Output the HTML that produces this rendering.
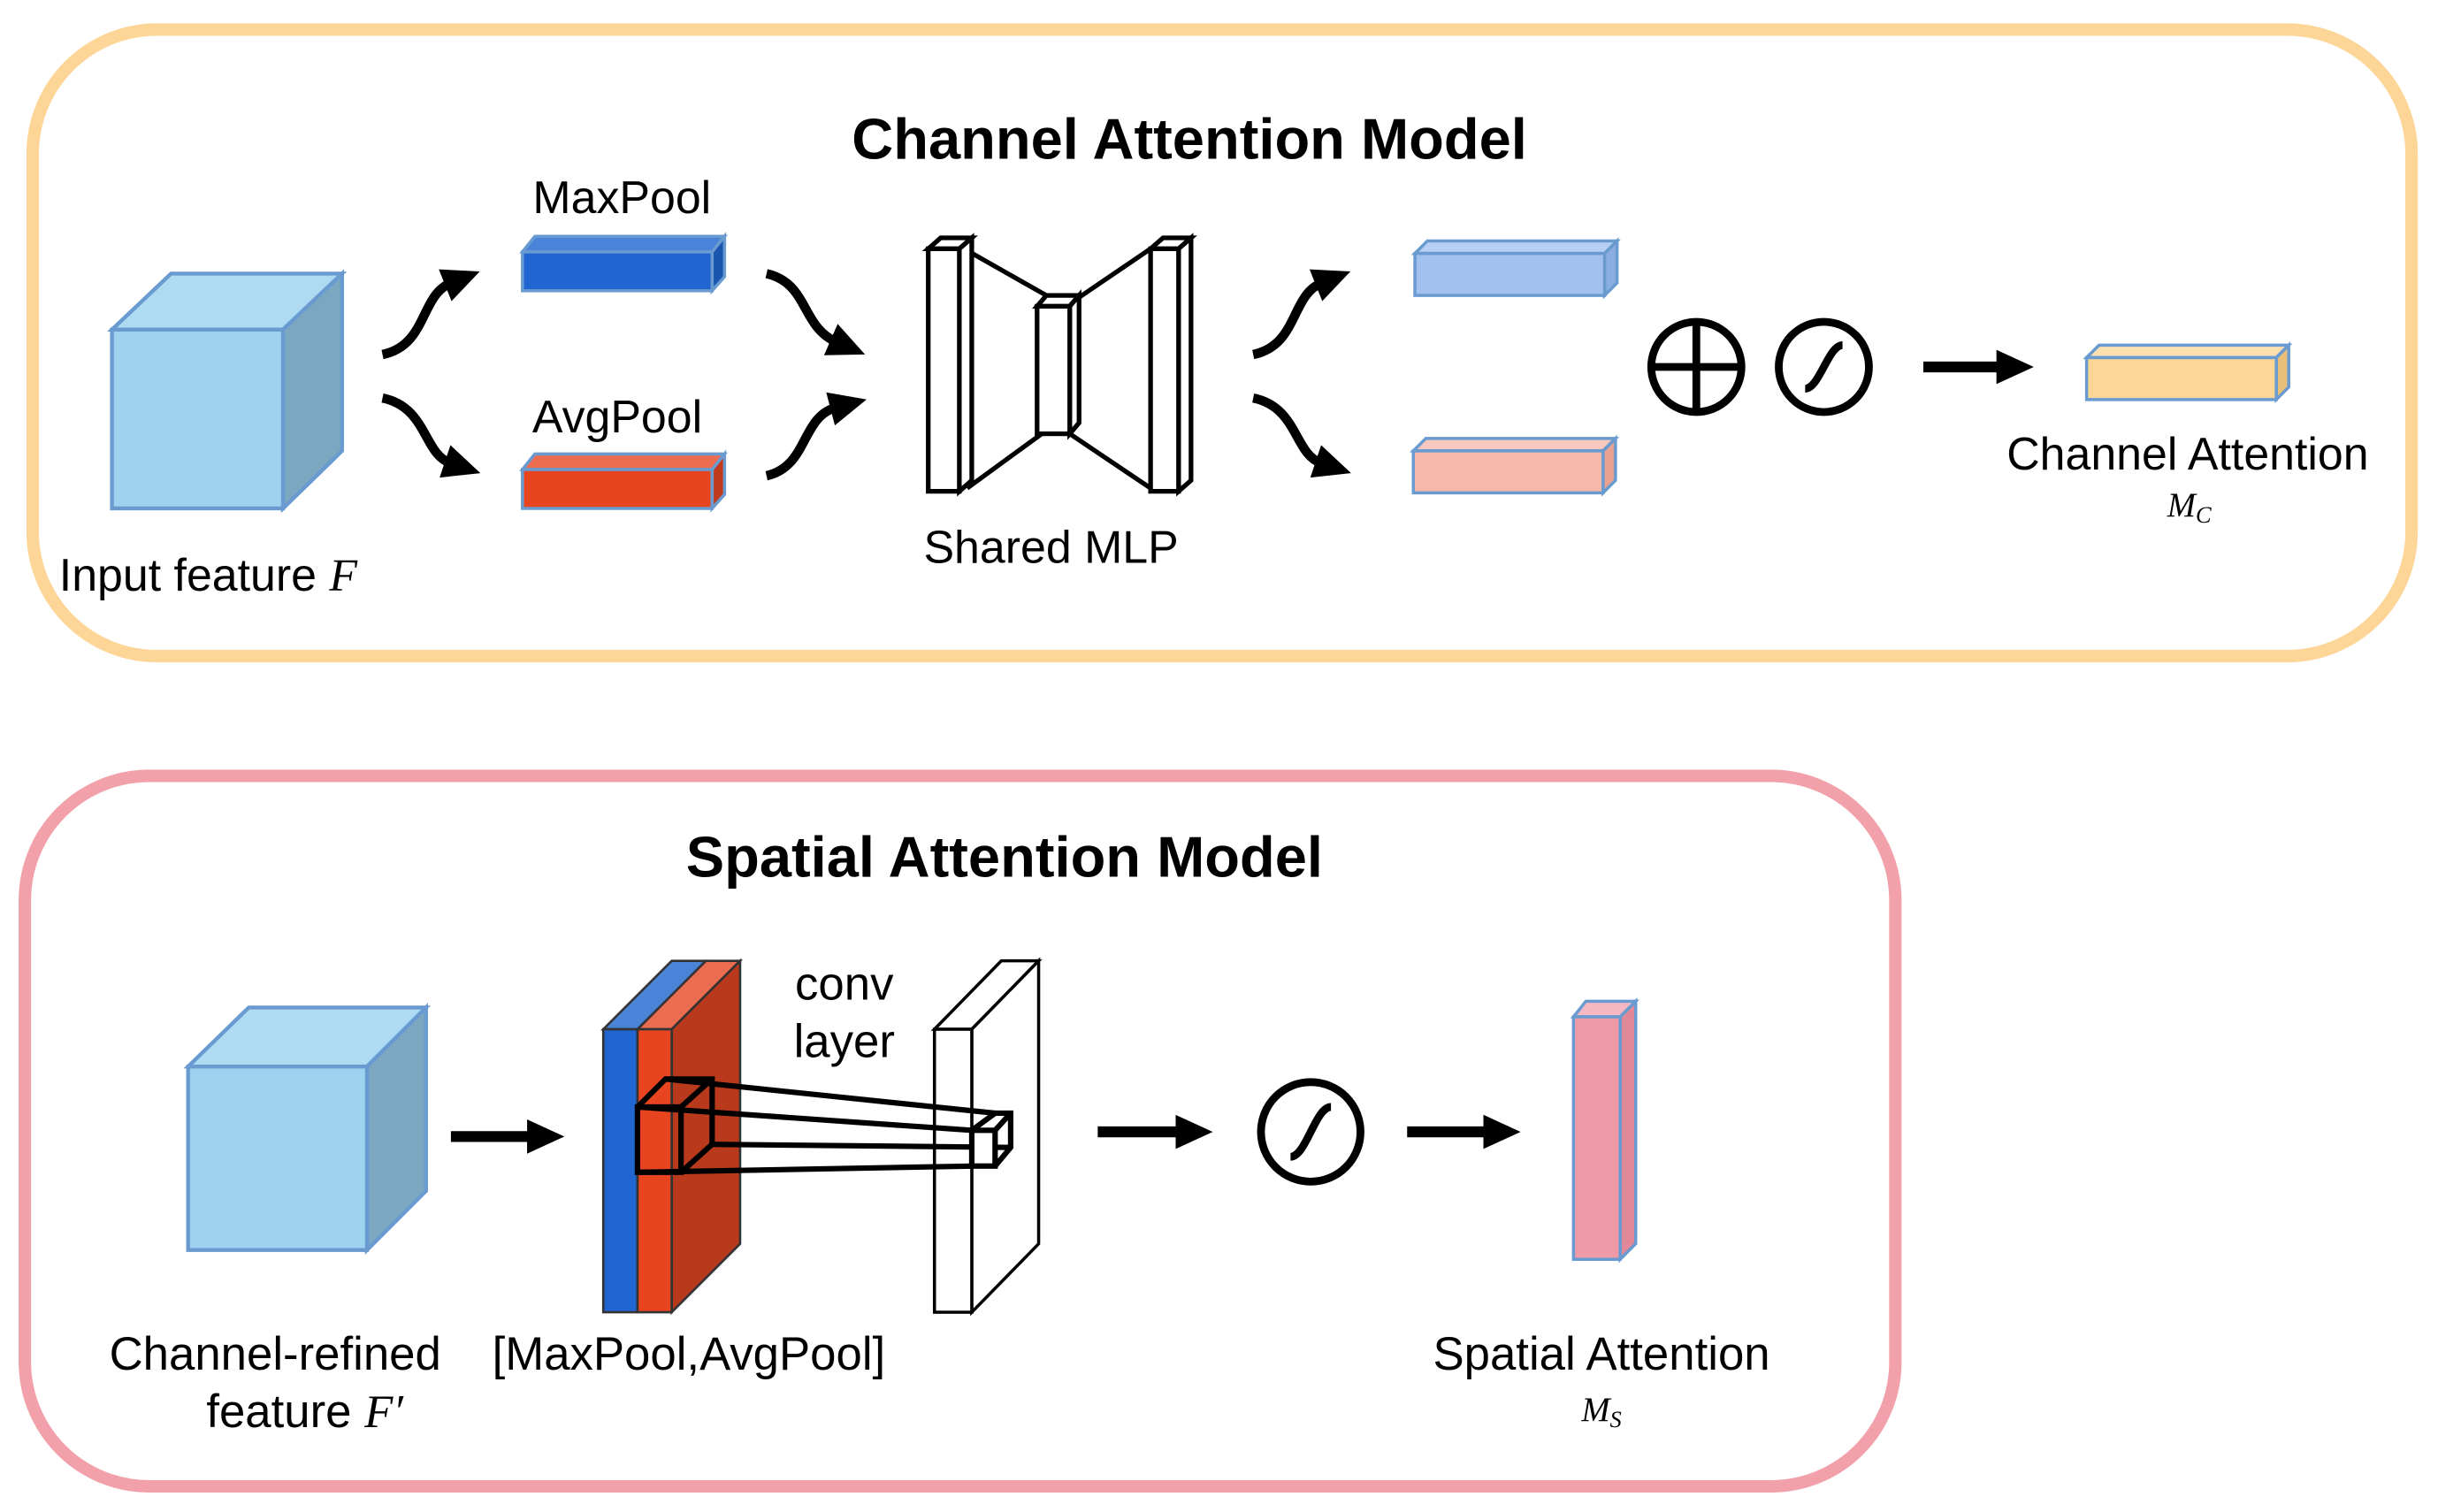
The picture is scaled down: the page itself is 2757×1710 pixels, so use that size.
<!DOCTYPE html>
<html><head><meta charset="utf-8"><style>html,body{margin:0;padding:0;background:#fff}svg{display:block}</style></head>
<body>
<svg width="2757" height="1710" viewBox="0 0 1568 972.5" preserveAspectRatio="none" xmlns="http://www.w3.org/2000/svg" font-family="'Liberation Sans', Arial, sans-serif">
<defs>
<marker id="ah" markerUnits="userSpaceOnUse" markerWidth="26" markerHeight="26" refX="4" refY="13" orient="auto">
<path d="M0,2 L24,13 L0,24 Z" fill="#000"/>
</marker>
</defs>
<rect x="0" y="0" width="1568" height="972.5" fill="#fff"/>
<rect x="21" y="19" width="1530" height="403" rx="80" fill="none" stroke="#FDD597" stroke-width="8"/>
<rect x="16" y="499" width="1203" height="457" rx="80" fill="none" stroke="#F2A0AA" stroke-width="8"/>
<text x="765" y="102" font-size="37" font-weight="bold" text-anchor="middle">Channel Attention Model</text>
<text x="646" y="564" font-size="37" font-weight="bold" text-anchor="middle">Spatial Attention Model</text>

<g stroke="#6A9BD0" stroke-width="2.5">
<polygon points="72,212 110,176 220,176 182,212" fill="#AEDBF2"/>
<polygon points="182,212 220,176 220,290 182,327" fill="#7BA8C0"/>
<rect x="72" y="212" width="110" height="115" fill="#9DD3EE"/>
</g>
<g stroke="#6A9BD0" stroke-width="2">
<polygon points="336,162 344,152 466,152 458,162" fill="#4A84D8"/>
<polygon points="458,162 466,152 466,178 458,187" fill="#1A55B0"/>
<rect x="336" y="162" width="122" height="25" fill="#2166D0"/>
<polygon points="336,302 344,292 466,292 458,302" fill="#EC6C50"/>
<polygon points="458,302 466,292 466,318 458,327" fill="#C23A1C"/>
<rect x="336" y="302" width="122" height="25" fill="#E84420"/>
</g>
<text x="400" y="137" font-size="29.5" text-anchor="middle">MaxPool</text>
<text x="397" y="278" font-size="29.5" text-anchor="middle">AvgPool</text>
<text x="38" y="380" font-size="29.5">Input feature <tspan font-family="'Liberation Serif',serif" font-style="italic">F</tspan></text>

<g fill="none" stroke="#000" stroke-width="6" marker-end="url(#ah)">
<path d="M246,228 C275,222 270,190 290,182"/>
<path d="M246,256 C275,262 272,292 290,298"/>
<path d="M493,176 C520,182 515,210 538,220"/>
<path d="M493,306 C520,300 515,268 538,262"/>
<path d="M806,228 C835,222 830,190 850,182"/>
<path d="M806,256 C835,262 832,292 850,298"/>
</g>

<g stroke="#000" stroke-width="3" fill="#fff">
<line x1="620" y1="160" x2="680" y2="194"/>
<line x1="740" y1="160" x2="690" y2="194"/>
<line x1="622" y1="314" x2="670" y2="279"/>
<line x1="740" y1="314" x2="688" y2="279"/>
<polygon points="597,160 605,153 625,153 617,160"/>
<polygon points="617,160 625,153 625,309 617,316"/>
<rect x="597" y="160" width="20" height="156"/>
<polygon points="740,160 748,153 766,153 758,160"/>
<polygon points="758,160 766,153 766,309 758,316"/>
<rect x="740" y="160" width="18" height="156"/>
<polygon points="667,197 673,190 694,190 688,197"/>
<polygon points="688,197 694,190 694,272 688,279"/>
<rect x="667" y="197" width="21" height="82"/>
</g>
<text x="676" y="362" font-size="29.5" text-anchor="middle">Shared MLP</text>

<g stroke="#6A9BD0" stroke-width="2">
<polygon points="910,163 918,155 1040,155 1032,163" fill="#B6CFF2"/>
<polygon points="1032,163 1040,155 1040,182 1032,190" fill="#8AAEE0"/>
<rect x="910" y="163" width="122" height="27" fill="#A2C1EE"/>
<polygon points="909,290 917,282 1039,282 1031,290" fill="#F8C8BE"/>
<polygon points="1031,290 1039,282 1039,309 1031,317" fill="#E8A090"/>
<rect x="909" y="290" width="122" height="27" fill="#F6B8AA"/>
<polygon points="1342,230 1350,222 1472,222 1464,230" fill="#FDE0B0"/>
<polygon points="1464,230 1472,222 1472,249 1464,257" fill="#E8BE78"/>
<rect x="1342" y="230" width="122" height="27" fill="#FDD597"/>
</g>
<g stroke="#000" stroke-width="5" fill="none">
<circle cx="1091" cy="236" r="29"/>
<line x1="1091" y1="207" x2="1091" y2="265"/>
<line x1="1062" y1="236" x2="1120" y2="236"/>
<circle cx="1173" cy="236" r="29"/>
<path d="M1161,250 C1170,250 1176,222 1185,222"/>
</g>
<line x1="1237" y1="236" x2="1288" y2="236" stroke="#000" stroke-width="7" marker-end="url(#ah)"/>
<text x="1407" y="302" font-size="29.5" text-anchor="middle">Channel Attention</text>
<text x="1408" y="332" font-size="22" text-anchor="middle" font-family="'Liberation Serif',serif" font-style="italic">M<tspan font-size="15" dy="4">C</tspan></text>

<g stroke="#6A9BD0" stroke-width="2.5">
<polygon points="121,686 160,648 274,648 236,686" fill="#AEDBF2"/>
<polygon points="236,686 274,648 274,766 236,804" fill="#7BA8C0"/>
<rect x="121" y="686" width="115" height="118" fill="#9DD3EE"/>
</g>
<line x1="290" y1="731" x2="343" y2="731" stroke="#000" stroke-width="7" marker-end="url(#ah)"/>

<g stroke="#333" stroke-width="1.5">
<polygon points="388,662 432,618 454,618 410,662" fill="#4A84D8"/>
<rect x="388" y="662" width="22" height="182" fill="#2166D0"/>
<polygon points="410,662 454,618 476,618 432,662" fill="#EC6C50"/>
<polygon points="432,662 476,618 476,800 432,844" fill="#B8391C"/>
<rect x="410" y="662" width="22" height="182" fill="#E84420"/>
</g>
<g stroke="#000" stroke-width="2" fill="#fff">
<polygon points="601,662 644,618 668,618 625,662"/>
<polygon points="625,662 668,618 668,800 625,844"/>
<rect x="601" y="662" width="24" height="182"/>
</g>
<g stroke="#000" stroke-width="3.5" fill="none">
<rect x="410" y="712" width="28" height="42"/>
<polyline points="410,712 428,694 458,694 458,736 438,754"/>
<line x1="438" y1="712" x2="458" y2="694"/>
<line x1="428" y1="694" x2="640" y2="716"/>
<line x1="410" y1="712" x2="625" y2="727"/>
<line x1="410" y1="754" x2="625" y2="750"/>
<line x1="458" y1="736" x2="650" y2="738"/>
<rect x="625" y="727" width="15" height="23" fill="#fff"/>
<polyline points="625,727 640,716 650,716 650,738 640,750"/>
<line x1="640" y1="727" x2="650" y2="716"/>
</g>
<text x="543" y="643" font-size="30" text-anchor="middle">conv</text>
<text x="543" y="680" font-size="30" text-anchor="middle">layer</text>
<line x1="706" y1="728" x2="760" y2="728" stroke="#000" stroke-width="7" marker-end="url(#ah)"/>
<g stroke="#000" stroke-width="5" fill="none">
<circle cx="843" cy="728" r="32"/>
<path d="M830,744 C840,744 846,712 856,712"/>
</g>
<line x1="905" y1="728" x2="958" y2="728" stroke="#000" stroke-width="7" marker-end="url(#ah)"/>
<g stroke="#6A9BD0" stroke-width="2">
<polygon points="1012,654 1020,644 1052,644 1042,654" fill="#F6B8C2"/>
<polygon points="1042,654 1052,644 1052,800 1042,810" fill="#E08898"/>
<rect x="1012" y="654" width="30" height="156" fill="#F09AA8"/>
</g>
<text x="177" y="881" font-size="30" text-anchor="middle">Channel-refined</text>
<text x="196" y="918" font-size="30" text-anchor="middle">feature <tspan font-family="'Liberation Serif',serif" font-style="italic">F′</tspan></text>
<text x="443" y="881" font-size="30" text-anchor="middle">[MaxPool,AvgPool]</text>
<text x="1030" y="881" font-size="30" text-anchor="middle">Spatial Attention</text>
<text x="1030" y="914" font-size="22" text-anchor="middle" font-family="'Liberation Serif',serif" font-style="italic">M<tspan font-size="15" dy="4">S</tspan></text>
</svg>
</body></html>
